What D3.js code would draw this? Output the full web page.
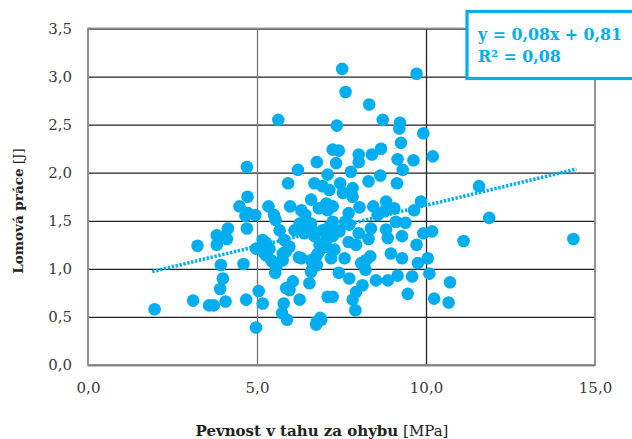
<!DOCTYPE html>
<html>
<head>
<meta charset="utf-8">
<script src="https://cdn.jsdelivr.net/npm/d3@7"></script>
<style>
  html, body { margin: 0; padding: 0; background: #fff; }
  svg { display: block; }
</style>
</head>
<body>
<svg id="chart" width="632" height="439"></svg>
<script>
// ---- data ----
const pevnost = [1.97,3.11,3.58,3.72,4.07,3.91,3.99,3.93,3.24,3.81,3.81,4.14,4.11,3.99,4.60,4.68,4.48,4.66,4.70,4.72,4.70,5.63,4.95,5.34,5.50,5.55,5.92,6.21,6.77,5.98,6.31,6.60,6.70,6.83,6.43,6.11,5.17,5.67,4.97,5.05,5.17,5.54,5.42,5.22,6.24,5.86,6.06,6.26,5.79,5.74,5.89,6.55,6.60,6.77,6.77,6.90,7.09,6.75,7.52,9.72,7.62,8.32,7.36,8.72,9.23,9.21,9.92,9.26,7.24,7.42,8.67,8.40,8.01,8.01,7.34,9.16,9.63,10.20,9.31,7.78,7.09,8.30,8.65,9.14,7.46,7.83,6.94,7.54,8.82,9.85,7.24,8.03,8.44,9.06,9.65,11.57,11.87,8.57,8.77,7.71,7.61,7.24,9.11,9.39,8.37,8.01,8.82,8.87,8.30,9.29,9.92,10.18,9.72,7.24,7.05,7.29,7.93,7.71,7.59,7.19,6.90,8.35,8.08,8.96,9.29,10.05,9.76,8.21,7.42,7.73,8.12,8.52,8.87,9.16,9.59,10.10,7.24,7.83,7.93,7.91,9.46,10.24,11.11,14.36,10.71,10.67,6.75,6.87,7.73,7.44,7.19,6.31,6.66,4.97,5.37,5.27,5.47,5.57,5.81,5.86,5.76,5.96,6.40,6.60,6.70,6.60,6.80,5.96,4.73,7.05,6.94,7.14,7.05,6.85,7.34,7.09,6.60,6.26,5.27,5.76,7.14,7.83,8.22];
const lomovaPrace = [0.58,0.67,0.62,0.62,0.66,0.79,0.90,1.04,1.24,1.25,1.35,1.42,1.31,1.33,1.05,0.68,1.65,1.55,1.42,1.75,2.06,2.55,1.56,1.65,1.56,1.51,1.89,2.03,2.11,1.65,1.61,1.72,1.89,1.63,1.56,1.40,1.30,1.40,0.39,0.77,0.64,0.96,1.09,1.16,1.12,0.80,0.87,0.68,0.64,0.54,0.47,0.85,0.97,1.04,0.45,0.47,0.71,1.13,3.08,3.03,2.84,2.71,2.49,2.55,2.52,2.46,2.41,2.31,2.24,2.23,2.25,2.19,2.19,2.11,2.10,2.14,2.13,2.17,2.03,2.01,1.98,1.91,1.97,1.89,1.89,1.84,1.86,1.79,1.70,1.70,1.65,1.64,1.65,1.63,1.61,1.86,1.53,1.56,1.60,1.58,1.49,1.49,1.49,1.48,1.42,1.37,1.41,1.32,1.31,1.34,1.37,1.39,1.25,1.34,1.23,1.20,1.25,1.28,1.11,1.11,1.21,1.13,1.06,1.16,1.11,1.11,1.06,0.99,0.96,0.90,0.83,0.88,0.88,0.93,0.92,0.95,0.71,0.68,0.76,0.57,0.74,0.69,1.29,1.31,0.86,0.65,0.42,0.49,1.46,1.39,1.40,1.11,1.02,1.21,1.21,1.14,1.07,1.02,1.30,1.18,1.09,1.23,1.37,1.44,1.34,1.09,1.16,0.78,1.58,1.68,1.40,1.44,1.30,1.25,1.40,1.61,1.47,1.47,1.27,1.16,1.82,1.75,1.09];
const trendX = [1.9, 14.45];
const trendSlope = 0.085;
const trendIntercept = 0.81;
const xTicks = [0, 5, 10, 15];
const yTicks = [0, 0.5, 1, 1.5, 2, 2.5, 3, 3.5];
const equationLines = ["y = 0,08x + 0,81", "R² = 0,08"];
const xTitleBold = "Pevnost v tahu za ohybu";
const xTitleUnit = " [MPa]";
const yTitleBold = "Lomová práce";
const yTitleUnit = " [J]";

(function () {
// ---- layout ----
const svg = d3.select("#chart");
const mLeft = 88, mRight = 595, mTop = 28.5, mBottom = 365;
const cyan = "#00AEEF";
const font = "'DejaVu Serif', serif";
const fmt = v => d3.format(".1f")(v).replace(".", ",");

const x = d3.scaleLinear().domain([0, 15]).range([mLeft, mRight]);
const y = d3.scaleLinear().domain([0, 3.5]).range([mBottom, mTop]);

// horizontal gridlines
svg.append("g")
  .attr("transform", `translate(${mLeft},0)`)
  .call(d3.axisLeft(y).tickValues(yTicks).tickSize(-(mRight - mLeft)).tickFormat(""))
  .call(g => g.select(".domain").remove())
  .call(g => g.selectAll("line").attr("stroke", "#222").attr("stroke-width", 1.3));

// vertical gridlines
svg.append("g")
  .attr("transform", `translate(0,${mBottom})`)
  .call(d3.axisBottom(x).tickValues([5, 10]).tickSize(-(mBottom - mTop)).tickFormat(""))
  .call(g => g.select(".domain").remove())
  .call(g => g.selectAll("line").attr("stroke", d => d === 5 ? "#777" : "#222").attr("stroke-width", 1.3));

// frame
svg.append("rect")
  .attr("x", mLeft).attr("y", mTop)
  .attr("width", mRight - mLeft).attr("height", mBottom - mTop)
  .attr("fill", "none").attr("stroke", "#8a8a8a").attr("stroke-width", 1.8);

// tick labels
const yAx = svg.append("g")
  .attr("transform", `translate(${mLeft},0)`)
  .call(d3.axisLeft(y).tickValues(yTicks).tickSize(0).tickPadding(16).tickFormat(fmt));
yAx.select(".domain").remove();
yAx.selectAll("text").attr("font-family", font).attr("font-size", 15).attr("fill", "#3a3a3a");

const xAx = svg.append("g")
  .attr("transform", `translate(0,${mBottom})`)
  .call(d3.axisBottom(x).tickValues(xTicks).tickSize(0).tickPadding(17).tickFormat(fmt));
xAx.select(".domain").remove();
xAx.selectAll("text").attr("font-family", font).attr("font-size", 15).attr("fill", "#3a3a3a");

// points
svg.append("g")
  .selectAll("circle")
  .data(pevnost.map((v, i) => [v, lomovaPrace[i]]))
  .join("circle")
  .attr("cx", d => x(d[0]))
  .attr("cy", d => y(d[1]))
  .attr("r", 6.3)
  .attr("fill", cyan);

// trend line
const line = d3.line().x(d => x(d)).y(d => y(trendSlope * d + trendIntercept));
svg.append("path")
  .datum(trendX)
  .attr("d", line)
  .attr("fill", "none")
  .attr("stroke", cyan)
  .attr("stroke-width", 3.6)
  .attr("stroke-dasharray", "2.4,1.6");

// equation box
svg.append("rect")
  .attr("x", 467).attr("y", 11.5)
  .attr("width", 170).attr("height", 67)
  .attr("fill", "#fff").attr("stroke", cyan).attr("stroke-width", 3.2);
svg.append("g").selectAll("text")
  .data(equationLines)
  .join("text")
  .attr("x", 478)
  .attr("y", (d, i) => 40 + i * 22)
  .attr("font-family", font)
  .attr("font-weight", "bold")
  .attr("font-size", 15.8)
  .attr("fill", cyan)
  .text(d => d);

// axis titles
const xt = svg.append("text")
  .attr("x", 322).attr("y", 436)
  .attr("text-anchor", "middle")
  .attr("font-family", font).attr("font-size", 15).attr("fill", "#222");
xt.append("tspan").attr("font-weight", "bold").text(xTitleBold);
xt.append("tspan").text(xTitleUnit);

const yt = svg.append("text")
  .attr("transform", `translate(23,211) rotate(-90)`)
  .attr("text-anchor", "middle")
  .attr("font-family", font).attr("font-size", 13.5).attr("fill", "#222");
yt.append("tspan").attr("font-weight", "bold").text(yTitleBold);
yt.append("tspan").text(yTitleUnit);
})();
</script>
</body>
</html>
